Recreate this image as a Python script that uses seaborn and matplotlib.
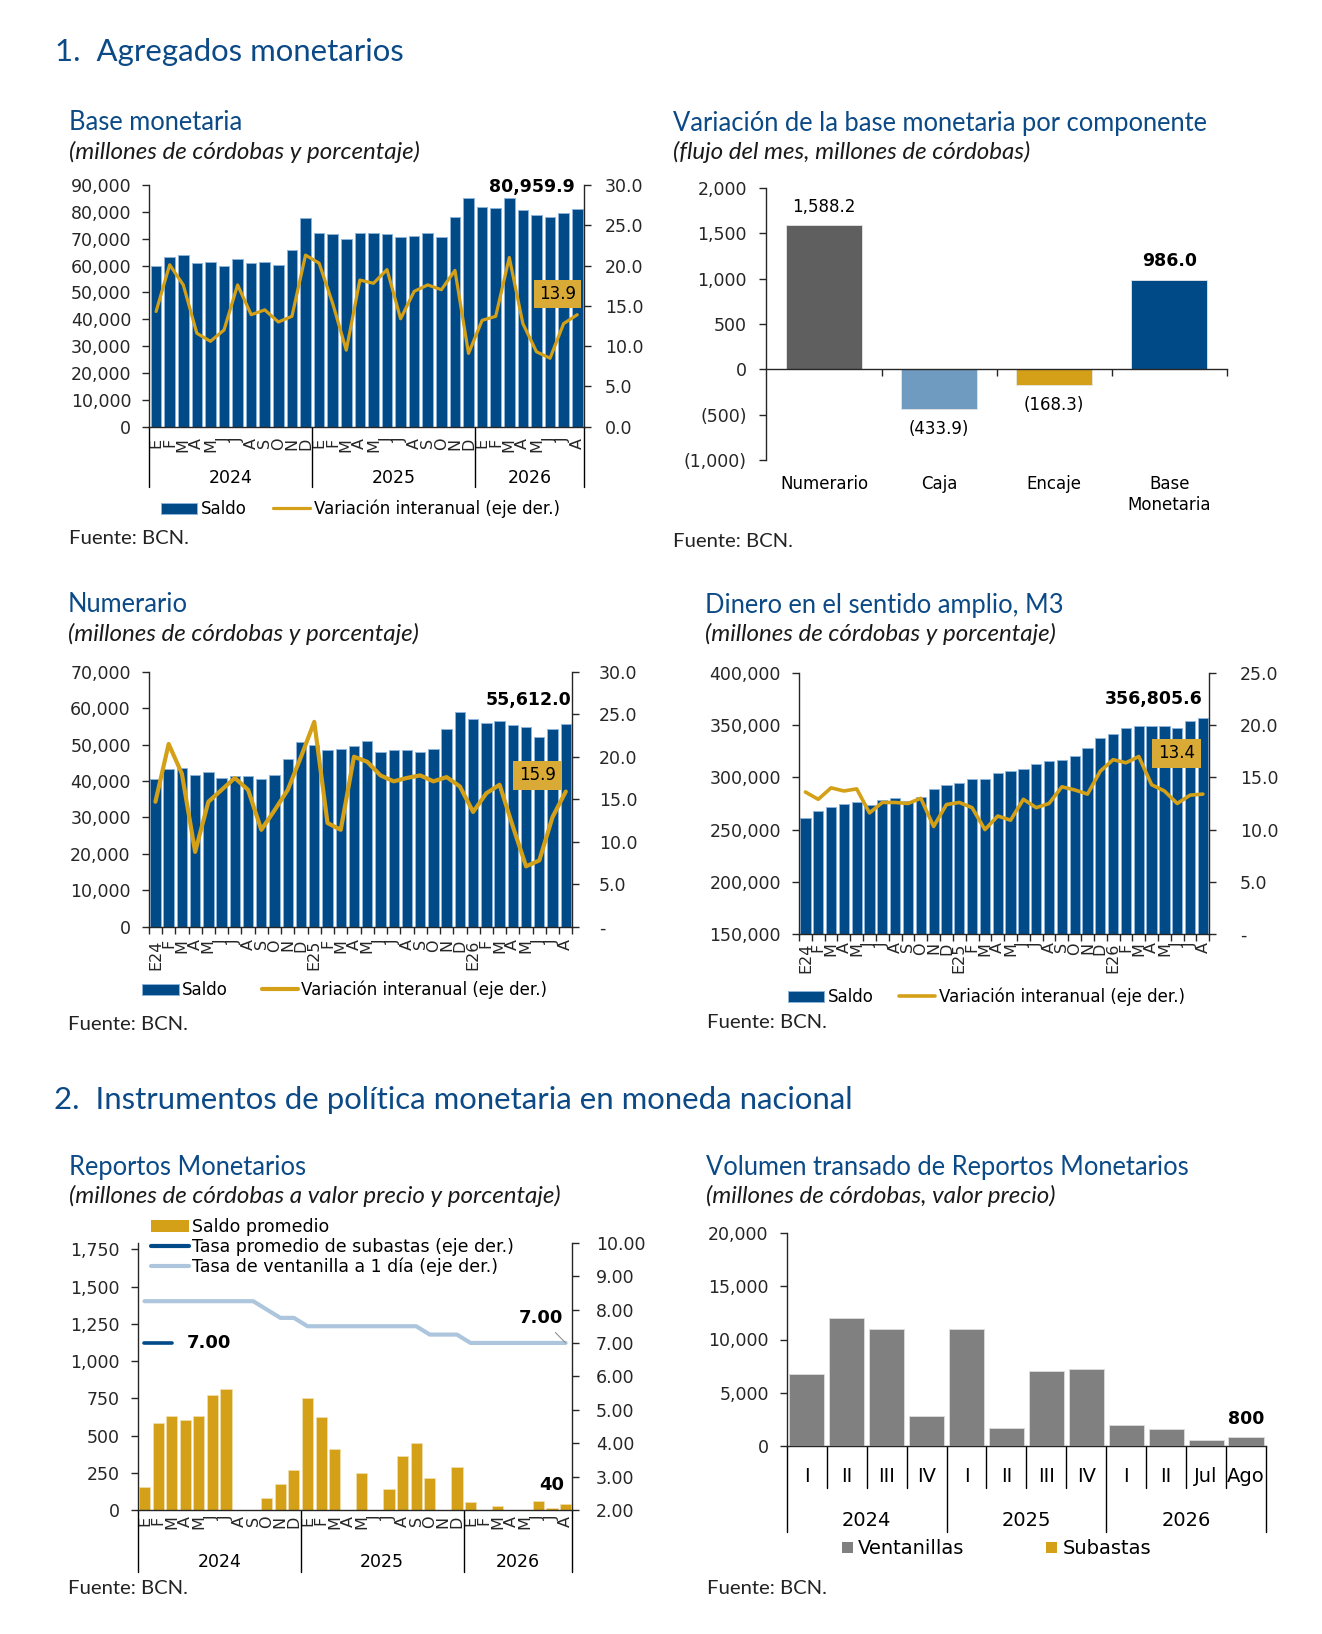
import numpy as np
import matplotlib
matplotlib.use('Agg')
import matplotlib.pyplot as plt
from matplotlib.patches import Patch
from matplotlib.lines import Line2D
import seaborn as sns

# ---------------- datos ----------------
meses = ['E', 'F', 'M', 'A', 'M', 'J', 'J', 'A', 'S', 'O', 'N', 'D',
         'E', 'F', 'M', 'A', 'M', 'J', 'J', 'A', 'S', 'O', 'N', 'D',
         'E', 'F', 'M', 'A', 'M', 'J', 'J', 'A']
meses_anio = ['E24', 'F', 'M', 'A', 'M', 'J', 'J', 'A', 'S', 'O', 'N', 'D',
              'E25', 'F', 'M', 'A', 'M', 'J', 'J', 'A', 'S', 'O', 'N', 'D',
              'E26', 'F', 'M', 'A', 'M', 'J', 'J', 'A']
anios = ['2024', '2025', '2026']

# Base monetaria
bm_saldo = [59800, 63100, 64100, 60800, 61400, 59800, 62400, 60800, 61400, 60300, 65800, 77600,
            72200, 71600, 70000, 72200, 72200, 71800, 70500, 71100, 72200, 70500, 78100, 85000,
            81900, 81300, 85000, 80800, 78700, 78100, 79700, 80959.9]
bm_var = [14.3, 20.1, 17.6, 11.6, 10.6, 12.0, 17.6, 13.9, 14.5, 13.0, 13.7, 21.3,
          20.3, 15.3, 9.5, 18.2, 17.8, 19.5, 13.4, 16.8, 17.6, 17.0, 19.4, 9.1,
          13.2, 13.7, 21.0, 12.8, 9.3, 8.5, 12.8, 13.9]

# Variacion de la base monetaria por componente
comp_cats = ['Numerario', 'Caja', 'Encaje', 'Base\nMonetaria']
comp_vals = [1588.2, -433.9, -168.3, 986.0]

# Numerario
num_saldo = [40500, 43300, 43700, 41600, 42400, 40900, 41300, 41300, 40500, 41600, 46100, 50800,
             49900, 48400, 48800, 49600, 51100, 48000, 48400, 48400, 48000, 48800, 54300, 59000,
             57100, 55900, 56600, 55500, 54700, 52000, 54300, 55612.0]
num_var = [14.7, 21.5, 18.0, 8.8, 14.7, 16.1, 17.5, 16.1, 11.4, 13.7, 16.1, 20.0,
           24.1, 12.2, 11.4, 20.0, 19.4, 17.8, 17.1, 17.5, 17.8, 17.1, 17.6, 16.5,
           13.5, 15.7, 16.7, 11.8, 7.1, 7.8, 12.9, 15.9]

# M3
m3_saldo = [260900, 267600, 271800, 274700, 276000, 273400, 278800, 280100, 277600, 281700, 288800, 292900,
            294500, 298300, 298300, 304100, 306600, 308200, 312400, 315300, 316600, 320700, 327700, 337700,
            341800, 347300, 348900, 348900, 348900, 347300, 354300, 356805.6]
m3_var = [13.6, 12.9, 14.0, 13.7, 13.9, 11.6, 12.6, 12.6, 12.5, 13.0, 10.3, 12.4,
          12.6, 12.1, 10.0, 11.3, 10.9, 12.9, 12.1, 12.5, 14.1, 13.8, 13.4, 15.6,
          16.7, 16.4, 17.0, 14.3, 13.7, 12.5, 13.3, 13.4]

# Reportos monetarios
rep_saldo = [152, 586, 633, 604, 633, 774, 812, 0, 0, 83, 172, 271,
             754, 624, 409, 0, 251, 0, 141, 360, 447, 213, 0, 289,
             54, 0, 25, 0, 0, 63, 13, 40]
rep_ventanilla = [8.25, 8.25, 8.25, 8.25, 8.25, 8.25, 8.25, 8.25, 8.25, 8.00, 7.75, 7.75,
                  7.50, 7.50, 7.50, 7.50, 7.50, 7.50, 7.50, 7.50, 7.50, 7.25, 7.25, 7.25,
                  7.00, 7.00, 7.00, 7.00, 7.00, 7.00, 7.00, 7.00]
sub_idx = [0, 1, 2]
sub_tasa = [7.00, 7.00, 7.00]

# Volumen transado
vol_cats = ['I', 'II', 'III', 'IV', 'I', 'II', 'III', 'IV', 'I', 'II', 'Jul', 'Ago']
vol_vent = [6750, 12050, 10950, 2800, 10950, 1700, 7000, 7250, 1950, 1550, 600, 800]
vol_sub = [0, 0, 0, 0, 0, 0, 0, 0, 0, 0, 0, 0]

# ---------------- estilo ----------------
NAVY = '#004b87'
EDGE = '#8db3d8'
GOLD = '#d4a017'
GOLDBOX = '#d9ab36'
DGRAY = '#5f5f5f'
STEEL = '#6f9bc0'
LBLUE = '#adc6dd'
GRAY = '#808080'
TITLE = '#0b4a86'
HEAD = ['Lato', 'DejaVu Sans']

sns.set_style('white')
plt.rcParams['font.family'] = ['DejaVu Sans']
plt.rcParams['axes.linewidth'] = 1.0
plt.rcParams['text.color'] = 'black'

W, H, DPI = 1322, 1634, 100
fig = plt.figure(figsize=(W / DPI, H / DPI), dpi=DPI)
fig.patch.set_facecolor('white')


def px_ax(l, t, r, b):
    return fig.add_axes([l / W, 1 - b / H, (r - l) / W, (b - t) / H])


def ftext(x, y, s, **kw):
    kw.setdefault('va', 'center')
    fig.text(x / W, 1 - y / H, s, **kw)


def below(ax, px):
    return -px / (ax.get_position().height * H)


def left_axis(ax, pad=8):
    for s in ['top', 'right']:
        ax.spines[s].set_visible(False)
    ax.tick_params(axis='y', which='major', direction='out', length=5, width=1,
                   pad=pad, labelsize=12.5, left=True)
    ax.set_xlabel('')
    ax.set_ylabel('')


def right_axis(ax2, pad=10):
    for s in ['top', 'left', 'bottom']:
        ax2.spines[s].set_visible(False)
    ax2.tick_params(axis='y', direction='out', length=5, width=1, pad=pad,
                    labelsize=12.5, right=True)
    ax2.set_xlabel('')
    ax2.set_ylabel('')


def year_groups(ax, edges, centers, labels, lab_px, sep_px, fs=12.5):
    tr = ax.get_xaxis_transform()
    for e in edges:
        ax.plot([e, e], [0, below(ax, sep_px)], transform=tr, color='black',
                lw=1, clip_on=False)
    for c, lab in zip(centers, labels):
        ax.text(c, below(ax, lab_px), lab, transform=tr, ha='center',
                va='center', fontsize=fs)


def legend_at(handles, labels, x, y, **kw):
    lg = fig.legend(handles, labels, loc='center left',
                    bbox_to_anchor=(x / W, 1 - y / H), frameon=False,
                    borderpad=0, borderaxespad=0, **kw)
    return lg


def headings(x, y, title, sub):
    ftext(x, y, title, color=TITLE, fontsize=18.4, family=HEAD)
    ftext(x, y + 29, sub, color='#1a1a1a', fontsize=17.4, family=HEAD,
          style='italic')


def fuente(x, y):
    ftext(x, y, 'Fuente: BCN.', fontsize=14.6, family=HEAD, color='#222222')


x32 = np.arange(32)
edges = [-0.5, 11.5, 23.5, 31.5]
centers = [5.5, 17.5, 27.5]

# ---------------- titulos de seccion ----------------
ftext(55, 52, '1.  Agregados monetarios', color=TITLE, fontsize=22.4, family=HEAD)
ftext(54, 1100, '2.  Instrumentos de política monetaria en moneda nacional',
      color=TITLE, fontsize=22.4, family=HEAD)

# ================= 1. Base monetaria =================
headings(69, 123, 'Base monetaria', '(millones de córdobas y porcentaje)')
ax = px_ax(149.3, 185, 584, 426.7)
sns.barplot(x=x32, y=bm_saldo, ax=ax, color=NAVY, saturation=1, width=0.78,
            edgecolor=EDGE, linewidth=0.7)
left_axis(ax)
ax.set_ylim(0, 90000)
yt = np.arange(0, 90001, 10000)
ax.set_yticks(yt)
ax.set_yticklabels([f'{v:,}' for v in yt])
ax.set_xticks(x32)
ax.set_xticklabels(meses, rotation=90, fontsize=11.5)
ax.tick_params(axis='x', length=0, pad=8)
ax.text(30.8, 89400, '80,959.9', ha='right', va='center', fontsize=12.5,
        fontweight='bold')
year_groups(ax, edges, centers, anios, 51, 60)
ax2 = ax.twinx()
sns.lineplot(x=x32, y=bm_var, ax=ax2, color=GOLD, lw=2.3)
right_axis(ax2, pad=10)
ax2.set_ylim(0, 30)
rt = np.arange(0, 31, 5)
ax2.set_yticks(rt)
ax2.set_yticklabels([f'{v:.1f}' for v in rt])
ax2.text(29.55, 16.5, '13.9', ha='center', va='center', fontsize=12,
         bbox=dict(boxstyle='square,pad=0.3', fc=GOLDBOX, ec='none'))
ax.set_xlim(-0.5, 31.5)
ax2.set_xlim(-0.5, 31.5)
legend_at([Patch(fc=NAVY, ec=EDGE, lw=0.7), Line2D([], [], color=GOLD, lw=2.3)],
          ['Saldo', 'Variación interanual (eje der.)'], 160.7, 509, ncol=2,
          handlelength=2.2, handletextpad=0.21, columnspacing=1.6, fontsize=12)
fuente(69, 538)

# ================= 2. Variacion por componente =================
headings(673, 123, 'Variación de la base monetaria por componente',
         '(flujo del mes, millones de córdobas)')
ax = px_ax(766.4, 188, 1227, 460)
sns.barplot(x=comp_cats, y=comp_vals, hue=comp_cats,
            palette=dict(zip(comp_cats, [DGRAY, STEEL, GOLD, NAVY])),
            legend=False, saturation=1, width=0.66, ax=ax,
            edgecolor='#e6e6e6', linewidth=0.6)
left_axis(ax, pad=9)
ax.set_ylim(-1000, 2000)
ax.set_xlim(-0.5, 3.5)
yt = np.arange(-1000, 2001, 500)
ax.set_yticks(yt)
ax.set_yticklabels([f'{v:,}' if v >= 0 else f'({-v:,})' for v in yt])
ax.spines['bottom'].set_position(('data', 0))
ax.set_xticks([0.5, 1.5, 2.5, 3.5])
ax.set_xticklabels([])
ax.tick_params(axis='x', direction='out', length=5, width=1, bottom=True)
tr = ax.get_xaxis_transform()
for i, lab in enumerate(comp_cats):
    ax.text(i, below(ax, 15), lab, transform=tr, ha='center', va='top',
            fontsize=12, linespacing=1.25)
for i, v in enumerate(comp_vals):
    txt = f'{v:,.1f}' if v >= 0 else f'({-v:,.1f})'
    if i == 3:
        ax.text(i, v + 207, txt, ha='center', va='center', fontsize=12.5,
                fontweight='bold')
    elif v >= 0:
        ax.text(i, v + 203, txt, ha='center', va='center', fontsize=12)
    else:
        ax.text(i, v - 220, txt, ha='center', va='center', fontsize=12)
fuente(673, 541)

# ================= 3. Numerario =================
headings(68, 605, 'Numerario', '(millones de córdobas y porcentaje)')
ax = px_ax(148.8, 671.7, 572.4, 926.7)
sns.barplot(x=x32, y=num_saldo, ax=ax, color=NAVY, saturation=1, width=0.78,
            edgecolor=EDGE, linewidth=0.7)
left_axis(ax)
ax.set_ylim(0, 70000)
yt = np.arange(0, 70001, 10000)
ax.set_yticks(yt)
ax.set_yticklabels([f'{v:,}' for v in yt])
ax.set_xticks(x32)
ax.set_xticklabels(meses_anio, rotation=90, fontsize=11.5)
ax.set_xticks(np.arange(-0.5, 32, 1), minor=True)
ax.tick_params(axis='x', which='major', length=0, pad=9)
ax.tick_params(axis='x', which='minor', direction='out', length=5, width=1,
               bottom=True)
ax.text(31.4, 62200, '55,612.0', ha='right', va='center', fontsize=12.5,
        fontweight='bold')
ax2 = ax.twinx()
sns.lineplot(x=x32, y=num_var, ax=ax2, color=GOLD, lw=3)
right_axis(ax2, pad=14)
ax2.set_ylim(0, 30)
rt = np.arange(0, 31, 5)
ax2.set_yticks(rt)
ax2.set_yticklabels(['-' if v == 0 else f'{v:.1f}' for v in rt])
ax2.text(28.85, 17.8, '15.9', ha='center', va='center', fontsize=12,
         bbox=dict(boxstyle='square,pad=0.35', fc=GOLDBOX, ec='none'))
ax.set_xlim(-0.5, 31.5)
ax2.set_xlim(-0.5, 31.5)
legend_at([Patch(fc=NAVY, ec=EDGE, lw=0.7), Line2D([], [], color=GOLD, lw=3)],
          ['Saldo', 'Variación interanual (eje der.)'], 142, 990, ncol=2,
          handlelength=2.2, handletextpad=0.17, columnspacing=2.05, fontsize=12)
fuente(68, 1024)

# ================= 4. M3 =================
headings(705, 605, 'Dinero en el sentido amplio, M3',
         '(millones de córdobas y porcentaje)')
ax = px_ax(799, 673, 1209.3, 934)
sns.barplot(x=x32, y=m3_saldo, ax=ax, color=NAVY, saturation=1, width=0.8,
            edgecolor=EDGE, linewidth=0.7)
left_axis(ax)
ax.set_ylim(150000, 400000)
yt = np.arange(150000, 400001, 50000)
ax.set_yticks(yt)
ax.set_yticklabels([f'{v:,}' for v in yt])
ax.set_xticks(x32)
ax.set_xticklabels(meses_anio, rotation=90, fontsize=11.5)
ax.set_xticks(np.arange(-0.5, 32, 1), minor=True)
ax.tick_params(axis='x', which='major', length=0, pad=6)
ax.tick_params(axis='x', which='minor', direction='out', length=5, width=1,
               bottom=True)
ax.text(30.95, 375000, '356,805.6', ha='right', va='center', fontsize=12.5,
        fontweight='bold')
ax2 = ax.twinx()
sns.lineplot(x=x32, y=m3_var, ax=ax2, color=GOLD, lw=2.6)
right_axis(ax2, pad=17)
ax2.set_ylim(0, 25)
rt = np.arange(0, 26, 5)
ax2.set_yticks(rt)
ax2.set_yticklabels(['-' if v == 0 else f'{v:.1f}' for v in rt])
ax2.text(28.96, 17.3, '13.4', ha='center', va='center', fontsize=12,
         bbox=dict(boxstyle='square,pad=0.35', fc=GOLDBOX, ec='none'))
ax.set_xlim(-0.5, 31.5)
ax2.set_xlim(-0.5, 31.5)
legend_at([Patch(fc=NAVY, ec=EDGE, lw=0.7), Line2D([], [], color=GOLD, lw=2.6)],
          ['Saldo', 'Variación interanual (eje der.)'], 787.6, 997, ncol=2,
          handlelength=2.2, handletextpad=0.22, columnspacing=1.5, fontsize=12)
fuente(707, 1023)

# ================= 5. Reportos monetarios =================
headings(68.7, 1167, 'Reportos Monetarios',
         '(millones de córdobas a valor precio y porcentaje)')
ax = px_ax(137.7, 1242.7, 572.4, 1510)
sns.barplot(x=x32, y=rep_saldo, ax=ax, color=GOLD, saturation=1, width=0.82,
            edgecolor='#f0e0b0', linewidth=0.5)
left_axis(ax)
ax.set_ylim(0, 1794)
yt = np.arange(0, 1751, 250)
ax.set_yticks(yt)
ax.set_yticklabels([f'{v:,}' for v in yt])
ax.set_xticks(x32)
ax.set_xticklabels(meses, rotation=90, fontsize=11.5)
ax.tick_params(axis='x', length=0, pad=4)
ax.text(30.9, 168, '40', ha='right', va='center', fontsize=13,
        fontweight='bold')
year_groups(ax, edges, centers, anios, 52, 62)
ax2 = ax.twinx()
sns.lineplot(x=x32, y=rep_ventanilla, ax=ax2, color=LBLUE, lw=3)
sns.lineplot(x=sub_idx, y=sub_tasa, ax=ax2, color=NAVY, lw=2.6)
right_axis(ax2, pad=12)
ax2.set_ylim(2, 10)
rt = np.arange(2, 11, 1)
ax2.set_yticks(rt)
ax2.set_yticklabels([f'{v:.2f}' for v in rt])
ax2.text(3.13, 7.0, '7.00', ha='left', va='center', fontsize=13,
         fontweight='bold')
ax2.annotate('7.00', xy=(31, 7.0), xytext=(30.85, 7.74), ha='right',
             va='center', fontsize=13, fontweight='bold',
             arrowprops=dict(arrowstyle='-', color='#909090', lw=0.8,
                             shrinkA=2, shrinkB=0))
ax.set_xlim(-0.5, 31.5)
ax2.set_xlim(-0.5, 31.5)
legend_at([Patch(fc=GOLD, ec='none'), Line2D([], [], color=NAVY, lw=3),
           Line2D([], [], color=LBLUE, lw=3)],
          ['Saldo promedio', 'Tasa promedio de subastas (eje der.)',
           'Tasa de ventanilla a 1 día (eje der.)'], 150.6, 1247,
          ncol=1, handlelength=2.2, handletextpad=0.2, labelspacing=0.12,
          fontsize=12.5)
fuente(68, 1589)

# ================= 6. Volumen transado =================
headings(706, 1167, 'Volumen transado de Reportos Monetarios',
         '(millones de córdobas, valor precio)')
ax = px_ax(786.8, 1233, 1266, 1446)
x12 = np.arange(12)
sns.barplot(x=x12, y=vol_vent, ax=ax, color=GRAY, saturation=1, width=0.88,
            edgecolor='#d9d9d9', linewidth=0.7)
sns.barplot(x=x12, y=vol_sub, ax=ax, color=GOLD, saturation=1, width=0.88)
left_axis(ax)
ax.set_ylim(0, 20000)
ax.set_xlim(-0.5, 11.5)
yt = np.arange(0, 20001, 5000)
ax.set_yticks(yt)
ax.set_yticklabels([f'{v:,}' for v in yt])
ax.set_xticks([])
tr = ax.get_xaxis_transform()
for i, lab in enumerate(vol_cats):
    ax.text(i, below(ax, 30), lab, transform=tr, ha='center', va='center',
            fontsize=14)
for e in [0.5, 1.5, 2.5, 4.5, 5.5, 6.5, 8.5, 9.5, 10.5]:
    ax.plot([e, e], [0, below(ax, 42)], transform=tr, color='black', lw=1,
            clip_on=False)
year_groups(ax, [-0.5, 3.5, 7.5, 11.5], [1.5, 5.5, 9.5], anios, 75, 86, fs=14)
ax.text(11, 2575, '800', ha='center', va='center', fontsize=12.5,
        fontweight='bold')
legend_at([Patch(fc=GRAY, ec='none'), Patch(fc=GOLD, ec='none')],
          ['Ventanillas', 'Subastas'], 842, 1549, ncol=2, handlelength=0.55,
          handleheight=0.55, handletextpad=0.29, columnspacing=4.2, fontsize=14)
fuente(707, 1589)

fig.savefig('out.png', dpi=DPI, facecolor='white')
